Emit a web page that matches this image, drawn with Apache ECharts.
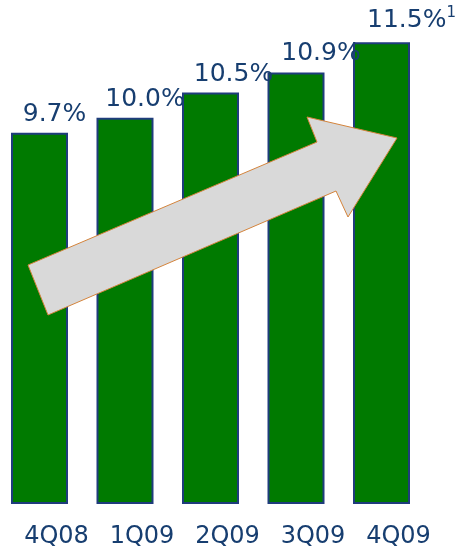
<!DOCTYPE html>
<html>
<head>
<meta charset="utf-8">
<script src="https://cdn.jsdelivr.net/npm/echarts@6/dist/echarts.min.js"></script>
<style>
  html, body { margin: 0; padding: 0; background: #fff; }
  #main { width: 458px; height: 554px; }
</style>
</head>
<body>
<div id="main"></div>
<script>
// quarters and ratio (%)
const quarters = ['4Q08', '1Q09', '2Q09', '3Q09', '4Q09'];
const ratios = [9.7, 10.0, 10.5, 10.9, 11.5];
const footnoteMark = '1';

const navy = '#173e70';
// labels sit a bit right of each bar in the original slide
const labelShift = [15, 20, 23, 25, 30];

const chart = echarts.init(document.getElementById('main'));

const barData = ratios.map((v, i) => ({
  value: v,
  label: { offset: [labelShift[i], 0] }
}));

const option = {
  animation: false,
  backgroundColor: '#fff',
  grid: { left: 39.5, right: 76.5, top: 17, bottom: 51 },
  xAxis: {
    type: 'category',
    data: quarters,
    boundaryGap: false,
    axisLine: { show: false },
    axisTick: { show: false },
    axisLabel: {
      color: navy,
      fontFamily: 'DejaVu Sans',
      fontSize: 24,
      margin: 22,
      padding: [0, 0, 0, 34]
    }
  },
  yAxis: {
    type: 'value',
    min: 2.35,
    max: 12,
    show: false,
    splitLine: { show: false }
  },
  series: [{
    type: 'bar',
    data: barData,
    barWidth: 57,
    itemStyle: { color: '#007a00', borderColor: '#1f3c7c', borderWidth: 2 },
    label: {
      show: true,
      position: 'top',
      distance: 6,
      color: navy,
      fontFamily: 'DejaVu Sans',
      fontSize: 25,
      formatter: p => {
        let s = p.value.toFixed(1) + '%';
        if (p.dataIndex === ratios.length - 1) s = '{a|' + s + '}{s|' + footnoteMark + '}';
        return s;
      },
      rich: {
        a: { color: navy, fontFamily: 'DejaVu Sans', fontSize: 25 },
        s: { color: navy, fontFamily: 'DejaVu Sans', fontSize: 15, padding: [0, 0, 16, 0] }
      }
    }
  }],
  graphic: [{
    type: 'polygon',
    z: 100,
    shape: {
      points: [[48, 315], [28, 265], [317, 142], [307, 117], [397, 138], [348, 217], [336, 191]]
    },
    style: { fill: '#d9d9d9', stroke: '#d4843c', lineWidth: 1 }
  }]
};

chart.setOption(option);
</script>
</body>
</html>
